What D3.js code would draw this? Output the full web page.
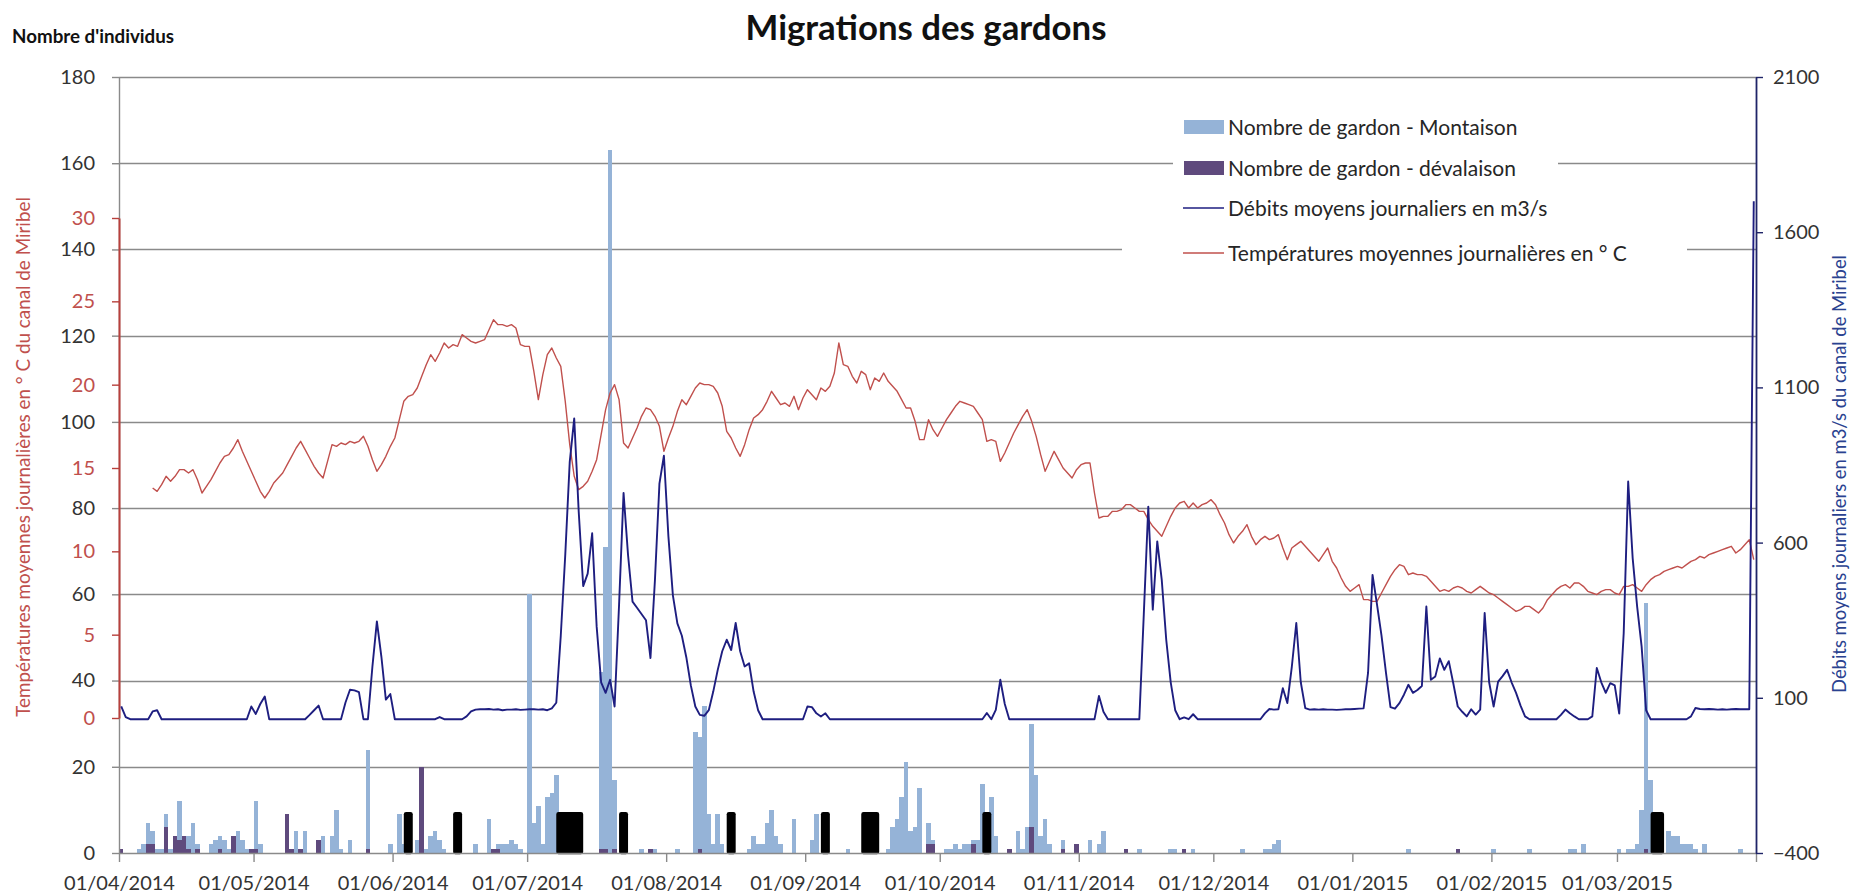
<!DOCTYPE html>
<html>
<head>
<meta charset="utf-8">
<title>Migrations des gardons</title>
<script src="https://cdn.jsdelivr.net/npm/d3@7"></script>
<style>
  html, body { margin: 0; padding: 0; background: #ffffff; }
  svg { display: block; font-family: Lato, "Open Sans", "DejaVu Sans", sans-serif; }
</style>
</head>
<body>
<svg id="chart" width="1856" height="896"></svg>
<script>
// ---------------------------------------------------------------
// Data — one value per day, day 0 = 01/04/2014
// ---------------------------------------------------------------
const periodStart = Date.UTC(2014, 3, 1);
const periodEnd = Date.UTC(2015, 3, 1);

const monthTickLabels = ["01/04/2014", "01/05/2014", "01/06/2014", "01/07/2014", "01/08/2014", "01/09/2014",
  "01/10/2014", "01/11/2014", "01/12/2014", "01/01/2015", "01/02/2015", "01/03/2015"];
const countTicks = [0, 20, 40, 60, 80, 100, 120, 140, 160, 180];
const tempTicks = [0, 5, 10, 15, 20, 25, 30];
const flowTicks = [-400, 100, 600, 1100, 1600, 2100];

// [day offset, number of roach counted] — upstream migration
const montaison = [
  [4,1],[5,2],[6,7],[7,5],[8,1],[9,1],[10,9],[11,1],[12,4],[13,12],[14,4],[15,4],[16,7],[17,2],
  [20,2],[21,3],[22,4],[23,3],[24,1],[25,4],[26,5],[27,3],[28,1],[29,1],[30,12],[31,2],
  [38,1],[39,5],[40,1],[41,5],[44,3],[45,4],[47,4],[48,10],[49,1],[51,3],[55,24],
  [60,2],[62,9],[63,2],[66,3],[68,1],[69,4],[70,5],[71,3],[72,1],[79,2],[82,8],[83,1],
  [84,2],[85,2],[86,2],[87,3],[88,2],[89,1],
  [91,60],[92,7],[93,11],[94,2],[95,13],[96,14],[97,18],
  [107,42],[108,71],[109,163],[110,17],
  [116,1],[119,1],[124,1],
  [128,28],[129,27],[130,34],[131,9],[132,2],[133,9],[134,2],
  [140,1],[141,4],[142,2],[143,2],[144,7],[145,10],[146,4],[147,2],[150,8],[154,3],[155,9],[162,1],
  [171,1],[172,6],[173,8],[174,13],[175,21],[176,5],[177,6],[178,15],[180,7],[181,3],
  [184,1],[185,1],[186,2],[187,1],[188,2],[189,2],[190,3],[191,3],[192,16],[194,13],[195,4],
  [200,5],[201,1],[202,6],[203,30],[204,18],[205,4],[206,8],[207,2],[210,3],[213,2],[216,3],[218,2],[219,5],
  [224,1],[227,1],[234,1],[235,1],[237,1],[239,1],
  [250,1],[255,1],[256,1],[257,2],[258,3],
  [287,1],[298,1],[306,1],[314,1],[323,1],[324,1],[326,2],[334,1],[336,1],[337,1],[338,2],[339,10],[340,58],[341,17],
  [345,5],[346,4],[347,4],[348,2],[349,2],[350,2],[351,1],[353,2],[361,1]
];

// [day offset, number of roach counted] — downstream migration
const devalaison = [
  [0,1],[6,2],[7,2],[10,6],[12,4],[13,3],[14,4],[15,1],[17,1],[22,1],[25,4],[29,1],[30,1],
  [37,9],[38,1],[40,1],[44,3],[55,1],[67,20],[83,1],[84,1],[107,1],[108,1],[110,1],[118,1],
  [129,1],[180,2],[181,2],[190,2],[198,1],[203,6],[210,1],[213,2],[224,1],[237,1],[298,1],[340,1]
];

// days drawn as black columns (no legend entry)
const blackDays = [64, 75, 98, 99, 100, 101, 102, 112, 136, 157, 166, 167, 168, 193, 342, 343];
const blackValue = 9;

// daily mean water temperature (°C), first value on 08/04/2014
const tempStartDay = 7;
const temperature = [
  13.8,13.6,14.0,
  14.5,14.2,14.5,14.9,14.9,14.7,14.9,14.3,13.5,13.9,
  14.3,14.8,15.3,15.7,15.8,16.2,16.7,16.0,15.4,14.8,
  14.2,13.6,13.2,13.6,14.1,14.4,14.7,15.2,15.7,16.2,
  16.6,16.1,15.6,15.1,14.7,14.4,15.4,16.4,16.3,16.5,
  16.4,16.6,16.5,16.6,16.9,16.3,15.5,14.8,15.2,15.7,
  16.3,16.8,17.9,19.0,19.3,19.4,19.8,20.5,21.2,21.8,
  21.4,21.9,22.5,22.2,22.4,22.3,23.0,22.8,22.6,22.5,
  22.6,22.7,23.3,23.9,23.6,23.6,23.5,23.6,23.4,22.4,
  22.3,22.3,20.8,19.1,20.6,21.8,22.2,21.6,21.1,19.0,
  16.4,14.5,13.7,13.9,14.2,14.8,15.5,17.0,18.5,19.5,
  20.0,19.1,16.5,16.2,16.8,17.4,18.1,18.6,18.5,18.1,
  17.5,16.0,16.8,17.5,18.4,19.1,18.8,19.3,19.8,20.1,
  20.0,20.0,19.9,19.5,18.7,17.2,16.8,16.2,15.7,16.4,
  17.3,18.0,18.2,18.5,19.0,19.6,19.2,18.8,18.9,18.7,
  19.3,18.5,19.2,19.7,19.4,19.1,19.8,19.6,19.9,20.7,
  22.5,21.2,21.1,20.5,20.1,20.8,20.6,19.7,20.4,20.2,
  20.7,20.2,19.9,19.6,19.1,18.6,18.6,17.8,16.7,16.7,
  17.9,17.3,16.9,17.4,17.9,18.3,18.7,19.0,18.9,18.8,
  18.7,18.3,17.9,16.6,16.7,16.6,15.4,15.9,16.5,17.1,
  17.6,18.1,18.5,17.8,16.9,15.8,14.8,15.4,16.0,15.5,
  15.0,14.7,14.4,14.9,15.2,15.3,15.3,13.5,12.0,12.1,
  12.1,12.4,12.4,12.5,12.8,12.8,12.6,12.4,12.4,11.9,
  11.5,11.2,10.9,11.5,12.1,12.6,12.9,13.0,12.6,12.9,
  12.6,12.8,12.9,13.1,12.8,12.2,11.7,11.0,10.5,10.9,
  11.2,11.6,10.9,10.4,10.7,10.9,10.7,10.8,11.0,10.2,
  9.5,10.2,10.4,10.6,10.3,10.0,9.7,9.4,9.8,10.2,
  9.4,9.0,8.4,7.9,7.6,7.8,8.0,7.1,7.1,7.0,
  7.0,7.5,8.0,8.5,8.9,9.2,9.1,8.6,8.7,8.6,
  8.6,8.5,8.2,7.9,7.6,7.7,7.6,7.8,7.9,7.8,
  7.6,7.5,7.7,7.9,7.7,7.5,7.4,7.2,7.0,6.8,
  6.6,6.4,6.5,6.7,6.7,6.5,6.3,6.6,7.1,7.4,
  7.7,7.9,8.0,7.8,8.1,8.1,7.9,7.6,7.5,7.4,
  7.6,7.7,7.7,7.5,7.4,7.9,7.9,8.0,7.8,7.6,
  8.0,8.3,8.5,8.6,8.8,8.9,9.0,9.1,9.0,9.2,
  9.4,9.5,9.7,9.6,9.8,9.9,10.0,10.1,10.2,10.3,
  9.9,10.1,10.4,10.7,9.5
];

// daily mean discharge (m3/s), first value on 01/04/2014
const flow = [
  72,38,31,31,31,31,31,56,60,31,
  31,31,31,31,31,31,31,31,31,31,
  31,31,31,31,31,31,31,31,31,72,
  48,80,104,31,31,31,31,31,31,31,
  31,31,45,60,75,31,31,31,31,31,
  85,126,124,118,31,31,200,346,233,94,
  112,31,31,31,31,31,31,31,31,31,
  31,38,31,31,31,31,31,40,56,62,
  63,63,64,62,63,60,62,62,63,61,
  62,63,63,62,63,60,66,84,300,560,
  860,1000,700,460,500,630,330,150,116,158,
  72,400,760,560,410,390,370,350,228,480,
  790,880,620,430,340,300,230,140,72,45,
  42,60,120,190,250,287,254,341,250,201,
  211,120,60,31,31,31,31,31,31,31,
  31,31,31,72,70,50,40,50,31,31,
  31,31,31,31,31,31,31,31,31,31,
  31,31,31,31,31,31,31,31,31,31,
  31,31,31,31,31,31,31,31,31,31,
  31,31,31,51,31,61,158,80,31,31,
  31,31,31,31,31,31,31,31,31,31,
  31,31,31,31,31,31,31,31,106,55,
  31,31,31,31,31,31,31,31,370,716,
  384,604,480,287,150,60,31,37,31,47,
  31,31,31,31,31,31,31,31,31,31,
  31,31,31,31,31,50,64,62,63,131,
  83,200,341,150,67,62,63,62,63,62,
  62,61,62,63,63,64,65,66,180,496,
  400,300,180,70,65,83,110,142,116,125,
  138,394,158,169,227,190,218,147,72,55,
  40,63,46,62,373,150,72,152,170,190,
  150,116,75,40,31,31,31,31,31,31,
  31,45,62,50,40,31,31,31,40,196,
  150,116,147,140,49,308,797,550,394,265,
  60,31,31,31,31,31,31,31,31,31,
  40,67,64,63,64,63,62,63,62,63,
  64,63,63,63,1700
];

// ---------------------------------------------------------------
// Layout & scales
// ---------------------------------------------------------------
const plot = { left: 119, right: 1756, top: 77, bottom: 853 };
const DAY = 864e5;
const dayDate = d => new Date(periodStart + d * DAY);

const x = d3.scaleUtc().domain([new Date(periodStart), new Date(periodEnd)]).range([plot.left, plot.right]);
const yCount = d3.scaleLinear().domain([0, 180]).range([plot.bottom, plot.top]);
const yTemp = d3.scaleLinear().domain([0, 30]).range([718, 218]);
const yFlow = d3.scaleLinear().domain([-400, 2100]).range([plot.bottom, plot.top]);

const parseTick = d3.utcParse("%d/%m/%Y");
const monthDates = monthTickLabels.map(parseTick);

const colors = {
  grid: "#8a8a8a",
  axis: "#8a8a8a",
  text: "#333333",
  montaison: "#95b3d7",
  devalaison: "#5f4a7d",
  black: "#000000",
  flow: "#1e1e80",
  temp: "#c0504d",
  tempAxis: "#b8403c",
  flowAxis: "#1f2468",
  flowTitle: "#2a4290"
};

const svg = d3.select("#chart");

// ---------------------------------------------------------------
// Gridlines (count axis)
// ---------------------------------------------------------------
svg.append("g")
  .selectAll("line")
  .data(countTicks.filter(v => v > 0))
  .join("line")
  .attr("x1", plot.left).attr("x2", plot.right)
  .attr("y1", d => Math.round(yCount(d)) + 0.5).attr("y2", d => Math.round(yCount(d)) + 0.5)
  .attr("stroke", colors.grid).attr("stroke-width", 1.4);

// ---------------------------------------------------------------
// Columns
// ---------------------------------------------------------------
const bars = svg.append("g").attr("shape-rendering", "crispEdges");

bars.selectAll("rect.mont")
  .data(montaison)
  .join("rect").attr("class", "mont")
  .attr("x", d => x(dayDate(d[0])))
  .attr("width", d => x(dayDate(d[0] + 1)) - x(dayDate(d[0])))
  .attr("y", d => yCount(d[1]))
  .attr("height", d => yCount(0) - yCount(d[1]))
  .attr("fill", colors.montaison);

bars.selectAll("rect.deval")
  .data(devalaison)
  .join("rect").attr("class", "deval")
  .attr("x", d => x(dayDate(d[0])))
  .attr("width", d => x(dayDate(d[0] + 1)) - x(dayDate(d[0])))
  .attr("y", d => yCount(d[1]))
  .attr("height", d => yCount(0) - yCount(d[1]))
  .attr("fill", colors.devalaison);

// consecutive black days are merged into one block
const blackRuns = [];
blackDays.forEach(d => {
  const last = blackRuns[blackRuns.length - 1];
  if (last && d === last.end) last.end = d + 1;
  else blackRuns.push({ start: d, end: d + 1 });
});
svg.append("g").selectAll("rect")
  .data(blackRuns)
  .join("rect")
  .attr("x", r => x(dayDate(r.start)))
  .attr("width", r => x(dayDate(r.end)) - x(dayDate(r.start)))
  .attr("y", yCount(blackValue))
  .attr("height", yCount(0) - yCount(blackValue) - 1)
  .attr("fill", colors.black)
  .attr("stroke", colors.black)
  .attr("stroke-width", 4.5)
  .attr("stroke-linejoin", "round");

// ---------------------------------------------------------------
// Axes
// ---------------------------------------------------------------
function styleAxis(g, lineColor, textColor) {
  g.select(".domain").attr("stroke", lineColor).attr("stroke-width", 1.4);
  g.selectAll(".tick line").attr("stroke", lineColor).attr("stroke-width", 1.4);
  g.selectAll(".tick text")
    .attr("fill", textColor)
    .attr("font-size", 20)
    .attr("font-family", "Lato, 'Open Sans', sans-serif");
}

// bottom date axis
const xAxisG = svg.append("g")
  .attr("transform", `translate(0,${plot.bottom})`)
  .call(d3.axisBottom(x)
    .tickValues(monthDates.concat([new Date(periodEnd)]))
    .tickFormat((d, i) => i < monthTickLabels.length ? monthTickLabels[i] : "")
    .tickSize(9).tickSizeOuter(0).tickPadding(14));
styleAxis(xAxisG, colors.axis, colors.text);

// left count axis
const yCountG = svg.append("g")
  .attr("transform", `translate(${plot.left},0)`)
  .call(d3.axisLeft(yCount).tickValues(countTicks).tickFormat(d3.format("d"))
    .tickSize(7).tickSizeOuter(0).tickPadding(17));
styleAxis(yCountG, colors.axis, colors.text);

// left temperature axis (drawn on the same line)
const yTempG = svg.append("g")
  .attr("transform", `translate(${plot.left},0)`)
  .call(d3.axisLeft(yTemp).tickValues(tempTicks).tickFormat(d3.format("d"))
    .tickSize(7).tickSizeOuter(0).tickPadding(17));
styleAxis(yTempG, colors.tempAxis, colors.temp);
yTempG.select(".domain").attr("stroke-width", 2);

// right discharge axis
const yFlowG = svg.append("g")
  .attr("transform", `translate(${plot.right},0)`)
  .call(d3.axisRight(yFlow).tickValues(flowTicks).tickFormat(d3.format("d"))
    .tickSize(7).tickSizeOuter(0).tickPadding(10));
styleAxis(yFlowG, colors.flowAxis, colors.text);
yFlowG.select(".domain").attr("stroke-width", 1.8);

// ---------------------------------------------------------------
// Lines
// ---------------------------------------------------------------
const tempLine = d3.line()
  .x((v, i) => x(dayDate(tempStartDay + i + 0.5)))
  .y(v => yTemp(v));
svg.append("path")
  .datum(temperature)
  .attr("d", tempLine)
  .attr("fill", "none")
  .attr("stroke", colors.temp)
  .attr("stroke-width", 1.4)
  .attr("stroke-linejoin", "round");

const flowLine = d3.line()
  .x((v, i) => x(dayDate(i + 0.5)))
  .y(v => yFlow(v));
svg.append("path")
  .datum(flow)
  .attr("d", flowLine)
  .attr("fill", "none")
  .attr("stroke", colors.flow)
  .attr("stroke-width", 1.9)
  .attr("stroke-linejoin", "round");

// ---------------------------------------------------------------
// Legend
// ---------------------------------------------------------------
const legendItems = [
  { label: "Nombre de gardon - Montaison", type: "rect", color: colors.montaison, y: 127, bg: [1173, 1558] },
  { label: "Nombre de gardon - dévalaison", type: "rect", color: colors.devalaison, y: 168, bg: [1173, 1558] },
  { label: "Débits moyens journaliers en m3/s", type: "line", color: colors.flow, y: 208, bg: [1173, 1558] },
  { label: "Températures moyennes journalières en ° C", type: "line", color: colors.temp, y: 253, bg: [1122, 1687] }
];
const legend = svg.append("g");
legendItems.forEach(item => {
  legend.append("rect")
    .attr("x", item.bg[0]).attr("width", item.bg[1] - item.bg[0])
    .attr("y", item.y - 17).attr("height", 34)
    .attr("fill", "#ffffff");
  if (item.type === "rect") {
    legend.append("rect")
      .attr("x", 1184).attr("y", item.y - 7).attr("width", 40).attr("height", 14)
      .attr("fill", item.color);
  } else {
    legend.append("line")
      .attr("x1", 1183).attr("x2", 1224)
      .attr("y1", item.y).attr("y2", item.y)
      .attr("stroke", item.color).attr("stroke-width", 1.6);
  }
  legend.append("text")
    .attr("x", 1228).attr("y", item.y).attr("dy", "0.36em")
    .attr("font-size", 21).attr("fill", "#262626")
    .text(item.label);
});

// ---------------------------------------------------------------
// Titles
// ---------------------------------------------------------------
function fitWidth(sel, target) {
  const size = +sel.attr("font-size");
  const w = sel.node().getComputedTextLength();
  if (w > 0) sel.attr("font-size", (size * target / w).toFixed(2));
  return sel;
}

fitWidth(svg.append("text")
  .attr("x", 926).attr("y", 40)
  .attr("text-anchor", "middle")
  .attr("font-weight", "bold").attr("font-size", 30)
  .attr("fill", "#111111")
  .text("Migrations des gardons"), 361);

fitWidth(svg.append("text")
  .attr("x", 12).attr("y", 43)
  .attr("font-weight", "bold").attr("font-size", 16)
  .attr("fill", "#111111")
  .text("Nombre d'individus"), 162);

fitWidth(svg.append("text")
  .attr("transform", "translate(30,457) rotate(-90)")
  .attr("text-anchor", "middle")
  .attr("font-size", 18)
  .attr("fill", colors.temp)
  .text("Températures moyennes journalières en ° C du canal de Miribel"), 520);

fitWidth(svg.append("text")
  .attr("transform", "translate(1846,474) rotate(-90)")
  .attr("text-anchor", "middle")
  .attr("font-size", 18)
  .attr("fill", colors.flowTitle)
  .text("Débits moyens journaliers en m3/s du canal de Miribel"), 438);
</script>
</body>
</html>
